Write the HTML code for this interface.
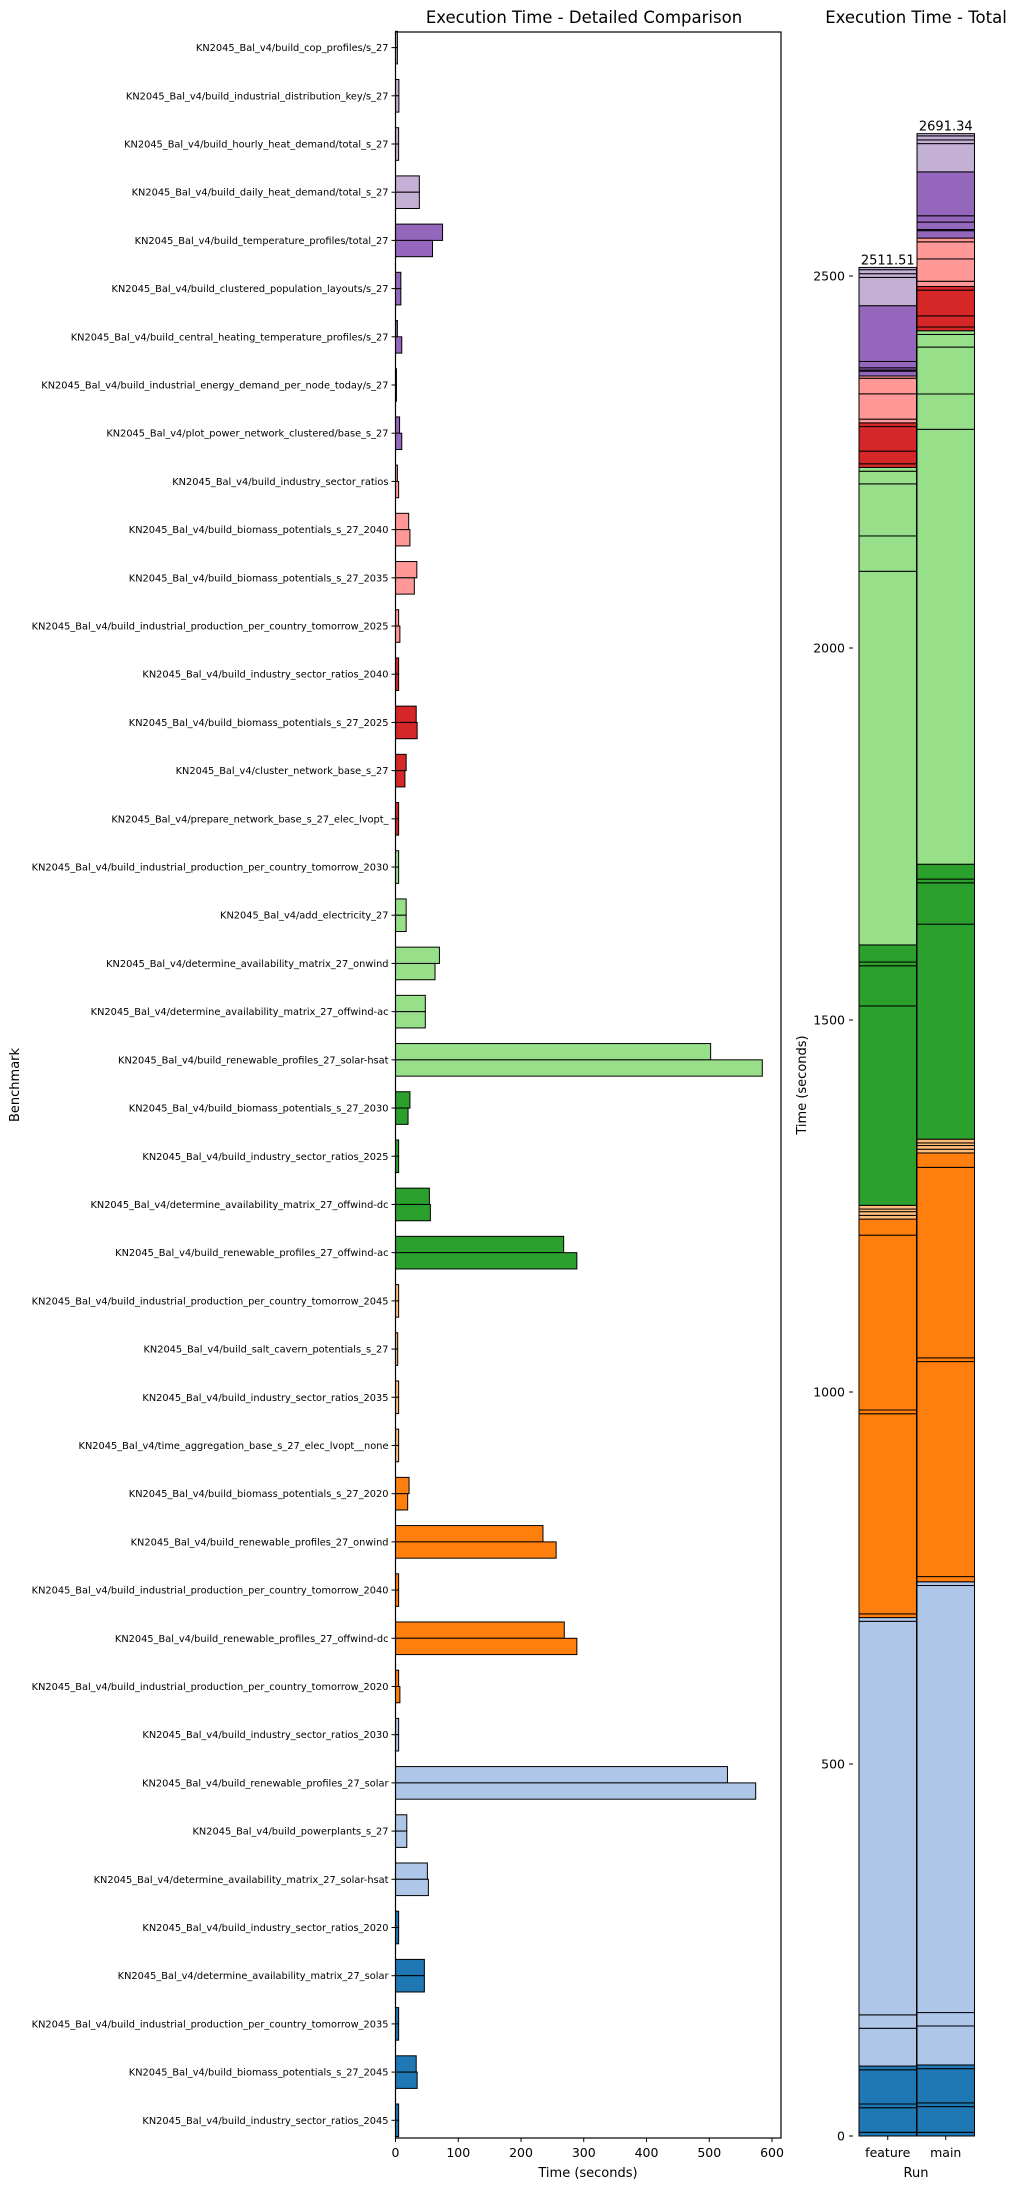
<!DOCTYPE html>
<html><head><meta charset="utf-8">
<style>
html,body{margin:0;padding:0;background:#fff;}
svg{display:block;font-family:"DejaVu Sans","Liberation Sans",sans-serif;}
</style></head>
<body>
<svg id="chart" width="1018" height="2189" viewBox="0 0 1018 2189" xmlns="http://www.w3.org/2000/svg">
<text x="584" y="23" font-size="16.5" text-anchor="middle">Execution Time - Detailed Comparison</text>
<text x="916" y="23" font-size="16.5" text-anchor="middle">Execution Time - Total</text>
<text x="588" y="2177" font-size="13" text-anchor="middle">Time (seconds)</text>
<text transform="translate(19,1085) rotate(-90)" font-size="13" text-anchor="middle">Benchmark</text>
<text x="916" y="2177" font-size="13" text-anchor="middle">Run</text>
<text transform="translate(806,1085) rotate(-90)" font-size="13" text-anchor="middle">Time (seconds)</text>
<g id="detail"></g>
<g id="total"></g>
</svg>
<script>
const benchmarks = [
"KN2045_Bal_v4/build_cop_profiles/s_27",
"KN2045_Bal_v4/build_industrial_distribution_key/s_27",
"KN2045_Bal_v4/build_hourly_heat_demand/total_s_27",
"KN2045_Bal_v4/build_daily_heat_demand/total_s_27",
"KN2045_Bal_v4/build_temperature_profiles/total_27",
"KN2045_Bal_v4/build_clustered_population_layouts/s_27",
"KN2045_Bal_v4/build_central_heating_temperature_profiles/s_27",
"KN2045_Bal_v4/build_industrial_energy_demand_per_node_today/s_27",
"KN2045_Bal_v4/plot_power_network_clustered/base_s_27",
"KN2045_Bal_v4/build_industry_sector_ratios",
"KN2045_Bal_v4/build_biomass_potentials_s_27_2040",
"KN2045_Bal_v4/build_biomass_potentials_s_27_2035",
"KN2045_Bal_v4/build_industrial_production_per_country_tomorrow_2025",
"KN2045_Bal_v4/build_industry_sector_ratios_2040",
"KN2045_Bal_v4/build_biomass_potentials_s_27_2025",
"KN2045_Bal_v4/cluster_network_base_s_27",
"KN2045_Bal_v4/prepare_network_base_s_27_elec_lvopt_",
"KN2045_Bal_v4/build_industrial_production_per_country_tomorrow_2030",
"KN2045_Bal_v4/add_electricity_27",
"KN2045_Bal_v4/determine_availability_matrix_27_onwind",
"KN2045_Bal_v4/determine_availability_matrix_27_offwind-ac",
"KN2045_Bal_v4/build_renewable_profiles_27_solar-hsat",
"KN2045_Bal_v4/build_biomass_potentials_s_27_2030",
"KN2045_Bal_v4/build_industry_sector_ratios_2025",
"KN2045_Bal_v4/determine_availability_matrix_27_offwind-dc",
"KN2045_Bal_v4/build_renewable_profiles_27_offwind-ac",
"KN2045_Bal_v4/build_industrial_production_per_country_tomorrow_2045",
"KN2045_Bal_v4/build_salt_cavern_potentials_s_27",
"KN2045_Bal_v4/build_industry_sector_ratios_2035",
"KN2045_Bal_v4/time_aggregation_base_s_27_elec_lvopt__none",
"KN2045_Bal_v4/build_biomass_potentials_s_27_2020",
"KN2045_Bal_v4/build_renewable_profiles_27_onwind",
"KN2045_Bal_v4/build_industrial_production_per_country_tomorrow_2040",
"KN2045_Bal_v4/build_renewable_profiles_27_offwind-dc",
"KN2045_Bal_v4/build_industrial_production_per_country_tomorrow_2020",
"KN2045_Bal_v4/build_industry_sector_ratios_2030",
"KN2045_Bal_v4/build_renewable_profiles_27_solar",
"KN2045_Bal_v4/build_powerplants_s_27",
"KN2045_Bal_v4/determine_availability_matrix_27_solar-hsat",
"KN2045_Bal_v4/build_industry_sector_ratios_2020",
"KN2045_Bal_v4/determine_availability_matrix_27_solar",
"KN2045_Bal_v4/build_industrial_production_per_country_tomorrow_2035",
"KN2045_Bal_v4/build_biomass_potentials_s_27_2045",
"KN2045_Bal_v4/build_industry_sector_ratios_2045"];
const featureTimes = [3,5.4,5,38,75,8.5,3,1.5,6.5,3, 21,34,5,5,33,17,5,5,17,70, 47.5,502.21,23,5,54,268,5,3.5,5,5, 21.6,235,5,269,5,5,529,18,50.8,5, 46,5,33,5];
const mainTimes = [3,5.4,5,38,59,8.5,10,1.5,10,5, 23,30,7,5,34.5,15,5,5,17,63, 47.5,584.54,20,5,55.6,289,5,3.5,5,5, 19.4,256,5,289,7,5,574,18,52.4,5, 46,5,34.5,5];
const colorGroup = [9,9,9,9,8,8,8,8,8,7, 7,7,7,6,6,6,6,5,5,5, 5,5,4,4,4,4,3,3,3,3, 2,2,2,2,2,1,1,1,1,0, 0,0,0,0];
const runs = ["feature","main"];
const xTicks = [0,100,200,300,400,500,600];
const yTicksTotal = [0,500,1000,1500,2000,2500];
const palette = ["#1f77b4","#aec7e8","#ff7f0e","#ffbb78","#2ca02c","#98df8a","#d62728","#ff9896","#9467bd","#c5b0d5"];

const NS="http://www.w3.org/2000/svg";
function mk(tag,attrs,parent){const e=document.createElementNS(NS,tag);for(const k in attrs)e.setAttribute(k,attrs[k]);parent.appendChild(e);return e;}

const dg=document.getElementById('detail');
const X0=395.5, X1=781, Y0=32, Y1=2138;
const xScale=v=>X0+v*(772-395.5)/600;
const rowY=i=>47.6+i*(2120.3-47.6)/43;
const BH=16.3;
benchmarks.forEach((name,i)=>{
  const cy=rowY(i);
  const r1=mk('rect',{x:xScale(0),y:cy-BH,width:xScale(featureTimes[i])-xScale(0),height:BH,fill:palette[colorGroup[i]],stroke:'#000','stroke-width':1},dg);
  
  
  const r2=mk('rect',{x:xScale(0),y:cy,width:xScale(mainTimes[i])-xScale(0),height:BH,fill:palette[colorGroup[i]],stroke:'#000','stroke-width':1},dg);
  
  
  const tk=mk('line',{x1:X0-4,x2:X0,y1:cy,y2:cy,stroke:'#000','stroke-width':1},dg);
  
  
  const t=mk('text',{x:X0-7,y:cy+3.5,'font-size':9.8,'text-anchor':'end'},dg);
  
  
  t.textContent=name;
});
const frame=mk('rect',{x:X0,y:Y0,width:X1-X0,height:Y1-Y0,fill:'none',stroke:'#000','stroke-width':1.2},dg);


xTicks.forEach(v=>{
  const x=xScale(v);
  const l=mk('line',{x1:x,x2:x,y1:Y1,y2:Y1+4,stroke:'#000','stroke-width':1},dg);
  
  
  const t=mk('text',{x:x,y:2157,'font-size':12.5,'text-anchor':'middle'},dg);
  
  
  t.textContent=v;
});

const tg=document.getElementById('total');
const TY0=2136;
const yT=v=>TY0-v*(TY0-276)/2500;
const barX=[859,917], barW=57.5;
[featureTimes,mainTimes].forEach((arr,r)=>{
  let acc=0;
  for(let i=arr.length-1;i>=0;i--){
    const y1=yT(acc), y2=yT(acc+arr[i]);
    const s=mk('rect',{x:barX[r],y:y2,width:barW,height:y1-y2,fill:palette[colorGroup[i]],stroke:'#000','stroke-width':1},tg);
    
    
    acc+=arr[i];
  }
  const lab=mk('text',{x:barX[r]+barW/2,y:yT(acc)-3,'font-size':13,'text-anchor':'middle'},tg);
  
  
  lab.textContent=(Math.round(acc*100)/100).toFixed(2);
  const tk=mk('line',{x1:barX[r]+barW/2,x2:barX[r]+barW/2,y1:TY0,y2:TY0+4,stroke:'#000','stroke-width':1},tg);
  
  
  const rl=mk('text',{x:barX[r]+barW/2,y:2157,'font-size':12.5,'text-anchor':'middle'},tg);
  
  
  rl.textContent=runs[r];
});
yTicksTotal.forEach(v=>{
  const y=yT(v);
  const l=mk('line',{x1:849,x2:853,y1:y,y2:y,stroke:'#000','stroke-width':1},tg);
  
  
  const t=mk('text',{x:845,y:y+4.5,'font-size':12.5,'text-anchor':'end'},tg);
  
  
  t.textContent=v;
});
</script>
</body></html>
